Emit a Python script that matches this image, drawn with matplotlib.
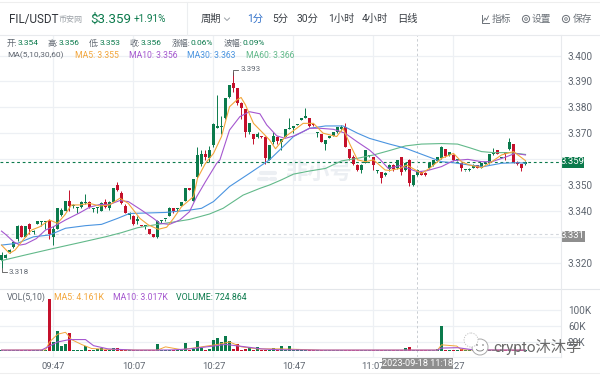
import matplotlib
matplotlib.use("Agg")
import matplotlib.pyplot as plt
from matplotlib.patches import Circle, Rectangle, Arc

plt.rcParams["font.family"] = ["Roboto", "Noto Sans CJK SC", "DejaVu Sans"]

UP = "#0b7a4c"
DOWN = "#c4102b"
C_MA5 = "#f3a63b"
C_MA10 = "#a557cf"
C_MA30 = "#4a94e0"
C_MA60 = "#62b98a"
GRID = "#edf0f4"
TXT = "#5f6670"

opens = [3.321, 3.322, 3.324, 3.326, 3.329, 3.334, 3.330, 3.335, 3.332, 3.335, 3.3358, 3.3358,
         3.336, 3.330, 3.333, 3.3385, 3.340, 3.344, 3.342, 3.341, 3.3416, 3.343, 3.3435, 3.3408,
         3.341, 3.340, 3.3435, 3.341, 3.3435, 3.350, 3.347, 3.342, 3.3385, 3.338, 3.336, 3.3345,
         3.334, 3.333, 3.331, 3.330, 3.3362, 3.3368, 3.338, 3.341, 3.3408, 3.342, 3.344, 3.349,
         3.344, 3.353, 3.358, 3.362, 3.3605, 3.3655, 3.3722, 3.3725, 3.3757, 3.3838, 3.3895, 3.3873,
         3.3815, 3.3793, 3.3706, 3.3697, 3.3687, 3.369, 3.3687, 3.3597, 3.3665, 3.3687, 3.3667, 3.3687,
         3.3717, 3.3722, 3.3732, 3.375, 3.376, 3.3757, 3.3733, 3.3702, 3.3697, 3.3658, 3.3683, 3.3689,
         3.3703, 3.3718, 3.3725, 3.3638, 3.3607, 3.3577, 3.3558, 3.3586, 3.3612, 3.3607, 3.3553, 3.3549,
         3.3538, 3.356, 3.3577, 3.3564, 3.3607, 3.3558, 3.3596, 3.350, 3.3539, 3.3551, 3.3548, 3.3564,
         3.3577, 3.3594, 3.3603, 3.3638, 3.3616, 3.3616, 3.3596, 3.3584, 3.3556, 3.3558, 3.3567, 3.3577,
         3.3567, 3.3582, 3.3584, 3.3618, 3.3635, 3.3605, 3.3626, 3.3638, 3.3658, 3.359, 3.358, 3.358]
closes = [3.323, 3.323, 3.325, 3.328, 3.334, 3.330, 3.334, 3.333, 3.3322, 3.336, 3.336, 3.336,
          3.331, 3.333, 3.341, 3.3405, 3.344, 3.342, 3.3423, 3.3413, 3.3435, 3.3435, 3.3415, 3.341,
          3.3412, 3.343, 3.3415, 3.3435, 3.349, 3.348, 3.343, 3.339, 3.339, 3.335, 3.337, 3.334,
          3.3342, 3.331, 3.330, 3.336, 3.3365, 3.337, 3.341, 3.340, 3.341, 3.3435, 3.349, 3.348,
          3.3525, 3.3616, 3.362, 3.3607, 3.3635, 3.3735, 3.3725, 3.3728, 3.3835, 3.3886, 3.3873, 3.3815,
          3.3796, 3.3706, 3.3738, 3.3678, 3.3697, 3.3687, 3.3603, 3.3654, 3.3689, 3.3671, 3.3676, 3.3715,
          3.372, 3.3725, 3.3735, 3.3757, 3.3765, 3.3728, 3.373, 3.3705, 3.3667, 3.3674, 3.369, 3.3703,
          3.3723, 3.3725, 3.3648, 3.3603, 3.358, 3.3558, 3.3577, 3.3635, 3.3616, 3.3577, 3.3556, 3.3526,
          3.3548, 3.3577, 3.356, 3.3596, 3.3549, 3.3586, 3.3506, 3.3539, 3.3558, 3.354, 3.3539, 3.3586,
          3.3596, 3.3607, 3.3648, 3.3612, 3.3626, 3.3596, 3.3598, 3.3564, 3.3558, 3.3562, 3.3577, 3.3567,
          3.3584, 3.3586, 3.3618, 3.3622, 3.362, 3.3608, 3.3618, 3.3667, 3.359, 3.358, 3.3564, 3.359]
highs = [3.324, 3.3235, 3.3252, 3.3285, 3.3345, 3.3345, 3.334, 3.3355, 3.3325, 3.336, 3.336, 3.336,
         3.337, 3.334, 3.341, 3.341, 3.344, 3.348, 3.3425, 3.3415, 3.344, 3.3466, 3.344, 3.341,
         3.3415, 3.3435, 3.3445, 3.344, 3.349, 3.351, 3.3475, 3.3425, 3.3395, 3.3385, 3.338, 3.3345,
         3.3345, 3.333, 3.331, 3.3365, 3.3365, 3.337, 3.3415, 3.3412, 3.341, 3.3435, 3.349, 3.349,
         3.3525, 3.3645, 3.3635, 3.3637, 3.365, 3.3738, 3.3847, 3.3765, 3.3835, 3.3886, 3.3935, 3.3875,
         3.382, 3.3795, 3.374, 3.3697, 3.3703, 3.369, 3.369, 3.3655, 3.3706, 3.369, 3.3678, 3.3716,
         3.3757, 3.3725, 3.3736, 3.3757, 3.3796, 3.3758, 3.3735, 3.3705, 3.3698, 3.3675, 3.369, 3.3703,
         3.3725, 3.373, 3.3738, 3.364, 3.3615, 3.358, 3.358, 3.3635, 3.3617, 3.361, 3.3557, 3.355,
         3.355, 3.358, 3.358, 3.3598, 3.361, 3.359, 3.360, 3.354, 3.356, 3.3553, 3.355, 3.3588,
         3.3598, 3.361, 3.365, 3.364, 3.3628, 3.362, 3.360, 3.3586, 3.3558, 3.3565, 3.358, 3.3578,
         3.3586, 3.3588, 3.362, 3.3642, 3.3637, 3.361, 3.3628, 3.368, 3.366, 3.3592, 3.3582, 3.3592]
lows = [3.318, 3.322, 3.3238, 3.3255, 3.3285, 3.330, 3.330, 3.331, 3.331, 3.335, 3.334, 3.333,
        3.329, 3.327, 3.333, 3.338, 3.340, 3.340, 3.341, 3.339, 3.3412, 3.3425, 3.341, 3.3395,
        3.339, 3.340, 3.341, 3.3405, 3.3435, 3.3475, 3.3425, 3.339, 3.337, 3.3345, 3.335, 3.334,
        3.333, 3.331, 3.330, 3.3295, 3.3355, 3.336, 3.338, 3.339, 3.340, 3.342, 3.344, 3.348,
        3.344, 3.3528, 3.3575, 3.3595, 3.359, 3.3648, 3.372, 3.3697, 3.3755, 3.3835, 3.386, 3.381,
        3.3755, 3.3687, 3.3695, 3.3658, 3.3682, 3.368, 3.358, 3.3595, 3.366, 3.366, 3.3635, 3.3686,
        3.3715, 3.370, 3.373, 3.375, 3.3758, 3.3725, 3.3728, 3.3685, 3.3665, 3.3635, 3.368, 3.3688,
        3.370, 3.371, 3.3645, 3.3595, 3.3578, 3.3555, 3.3545, 3.3585, 3.361, 3.3558, 3.3545, 3.3506,
        3.3535, 3.3555, 3.3555, 3.3562, 3.354, 3.3555, 3.3496, 3.3496, 3.3535, 3.3538, 3.3535, 3.356,
        3.3575, 3.359, 3.360, 3.361, 3.3612, 3.3594, 3.3592, 3.3555, 3.3553, 3.3555, 3.3565, 3.3565,
        3.3565, 3.358, 3.3583, 3.3616, 3.3618, 3.3603, 3.3598, 3.3635, 3.3585, 3.3578, 3.3555, 3.3578]
volumes_k = [1, 0.5, 0.5, 1, 0.5, 2, 2, 0.5, 0.5, 0.5, 1.5, 1,
             126, 21, 49, 10, 16, 42, 2, 2, 1, 12, 2, 2,
             3, 5, 2, 2, 5, 5, 3, 1, 1, 1, 1, 0.5,
             0.5, 0.5, 0.5, 17, 1, 1, 1.5, 1, 1, 2, 18, 2,
             3, 23, 5, 2, 4, 27, 30, 20, 37, 23, 4, 16,
             2, 4, 8, 2, 9, 2, 1.5, 1.5, 5, 2, 12, 2,
             12, 2, 3, 2, 2, 1, 1, 1, 1, 1, 1.5, 0.5,
             0.5, 0.5, 0.5, 0.5, 1.5, 0.5, 0.5, 2, 0.5, 0.5, 0.5, 0.5,
             1.5, 0.5, 0.5, 0.5, 1, 7, 8, 1.5, 1, 1, 0.5, 2,
             1, 3, 60, 2, 1, 1, 1, 3, 1, 1, 1.5, 2,
             1, 1, 2, 1, 1.5, 1, 1, 1, 2, 0.7, 1, 0.7]

# moving averages at the candle positions given
ma5_x = [0, 0.8, 2, 3.4, 5.4, 7.5, 9.6, 12, 14, 15.8, 17.5, 19.6, 22, 24.6, 27, 29.6, 31.7, 34.6, 36.7, 39.2,
         41.3, 43, 45, 48, 49, 51, 53, 55, 57, 58.8, 59.9, 61, 63, 65.4, 67, 68.5, 71, 73.8, 75.4, 78,
         80.4, 83.8, 85.4, 87, 89, 91, 93, 95.9, 97, 99.6, 101.3, 105, 107, 110, 113, 115, 117, 120, 122, 125,
         128, 131]
ma5 = [3.3268, 3.3255, 3.3236, 3.3249, 3.3288, 3.3326, 3.3339, 3.3365, 3.3352, 3.3384, 3.3423, 3.3423, 3.3429,
       3.3419, 3.3423, 3.3449, 3.3429, 3.3371, 3.3346, 3.3329, 3.3337, 3.3371, 3.3416, 3.3455, 3.3526, 3.3584,
       3.3622, 3.3687, 3.3802, 3.3828, 3.3838, 3.3809, 3.3738, 3.370, 3.3674, 3.3640, 3.3687, 3.3719, 3.3738,
       3.3738, 3.370, 3.3687, 3.3719, 3.3661, 3.3597, 3.359, 3.3597, 3.3558, 3.3556, 3.3564, 3.3577, 3.3545,
       3.3564, 3.3603, 3.3622, 3.359, 3.3577, 3.3567, 3.3584, 3.3616, 3.3629, 3.3594]
ma10_x = [0, 1.2, 3, 4.6, 6, 8.7, 11, 13, 16, 19.6, 22, 24.6, 27, 29.6, 31.7, 35, 38, 39.6, 42, 44.6,
          47, 48.8, 51, 53.8, 54.6, 57, 59.6, 62, 64.6, 66.3, 68.8, 70.9, 73, 75.4, 77, 79.6, 83, 85.9, 88.9, 92,
          94.6, 96.7, 99.6, 104, 106.3, 110, 113, 116.6, 120, 122.6, 125.9, 128.4, 131]
ma10 = [3.3322, 3.3307, 3.3281, 3.3268, 3.3272, 3.3293, 3.3326, 3.3339, 3.3365, 3.3393, 3.3414, 3.3425, 3.3425,
        3.344, 3.3436, 3.3403, 3.3371, 3.3352, 3.3348, 3.3365, 3.3397, 3.3455, 3.3513, 3.3584, 3.3597, 3.3712,
        3.3764, 3.3783, 3.3775, 3.3732, 3.369, 3.368, 3.3689, 3.3706, 3.3719, 3.3719, 3.3715, 3.370, 3.3667,
        3.3635, 3.3599, 3.3564, 3.3575, 3.3551, 3.3555, 3.3571, 3.3594, 3.3599, 3.359, 3.359, 3.3607, 3.3622, 3.3616]
ma30_x = [0, 4, 8, 12, 16, 21, 25, 29, 32, 41, 47, 50, 53, 57, 62, 67, 73, 77, 81, 85.4, 89, 92, 97, 101,
          105.5, 110, 113, 117, 120.5, 125, 129, 131]
ma30 = [3.3268, 3.3275, 3.330, 3.3307, 3.3333, 3.3343, 3.3348, 3.3371, 3.339, 3.3394, 3.3403, 3.341, 3.3436,
        3.3494, 3.3545, 3.3597, 3.3687, 3.3719, 3.3728, 3.3728, 3.370, 3.368, 3.3658, 3.3642, 3.3616, 3.359,
        3.3586, 3.3577, 3.3571, 3.3584, 3.3586, 3.3584]
ma60_x = [0, 6, 13, 20, 26, 30, 34, 39, 43, 47, 52, 55.4, 60.4, 64.6, 67, 70, 73, 77, 81, 85, 89, 93, 97, 101,
          105, 110, 114, 117, 120, 123, 127, 131]
ma60 = [3.3208, 3.323, 3.3255, 3.3279, 3.330, 3.3316, 3.3335, 3.3348, 3.3357, 3.3367, 3.3388, 3.341, 3.3461,
        3.3487, 3.350, 3.352, 3.3542, 3.3554, 3.3564, 3.3593, 3.3603, 3.3616, 3.3633, 3.3651, 3.3658, 3.366,
        3.3658, 3.3644, 3.3629, 3.3625, 3.3625, 3.3618]
vol_ma5_x = [0, 11, 12, 14, 16, 17.5, 20, 22.5, 26, 34, 39, 41, 45, 50, 54, 57, 60, 64, 70, 80, 105, 109, 110, 113.8, 115, 131]
vol_ma5 = [1, 1.5, 21, 40, 45, 27, 15, 5, 3, 1, 1, 9, 2, 9, 15, 21, 9, 4, 4, 1, 1, 1, 14, 11, 1.5, 1]
vol_ma10_x = [0, 10, 12, 14, 17, 21, 23, 26.6, 33, 39, 43, 47, 53, 56, 61, 65, 69, 80, 109, 110, 114, 118, 131]
vol_ma10 = [1, 1, 11, 21, 27, 27, 12, 4, 1, 1, 1.5, 4, 11, 15, 9, 4, 2, 1, 1, 6, 7, 1.5, 1]

price_ticks = [3.320, 3.330, 3.340, 3.350, 3.360, 3.370, 3.380, 3.390, 3.400]
price_labels = ["3.320", "", "3.340", "3.350", "", "3.370", "3.380", "3.390", "3.400"]
vol_ticks = [20, 60, 100]
vol_labels = ["20K", "60K", "100K"]
time_pos = [13, 33, 53, 73, 93, 113]
time_labels = ["09:47", "10:07", "10:27", "10:47", "11:07", "11:27"]
last_price = 3.359
mark_price = 3.331
cross_pos = 104

W, H = 600, 375
fig = plt.figure(figsize=(W / 100, H / 100), dpi=100, facecolor="white")


def px_axes(x0, y0, x1, y1, **kw):
    return fig.add_axes([x0 / W, 1 - y1 / H, (x1 - x0) / W, (y1 - y0) / H], **kw)


ax = px_axes(0, 35, 561, 289, zorder=1)
ax_v = px_axes(0, 289, 561, 357, zorder=1)
for a in (ax, ax_v):
    a.set_xlim(-0.375, 139.875)
    for s in a.spines.values():
        s.set_visible(False)
    a.tick_params(length=0, labelsize=7.2, labelcolor=TXT)
    a.tick_params(axis="y", pad=5)
    a.set_xticks(time_pos)
    a.set_xticklabels([])
    a.grid(True, color=GRID, linewidth=0.9)
    a.set_axisbelow(True)
    a.yaxis.tick_right()

ax.set_ylim(3.350 - 104 / 2590, 3.350 + 150 / 2590)
ax.set_yticks(price_ticks)
ax.set_yticklabels(price_labels)
ax_v.set_ylim(-6.5 * 2.47, 61.5 * 2.47)
ax_v.set_yticks(vol_ticks)
ax_v.set_yticklabels(vol_labels)
ax_v.set_xticklabels(time_labels)
ax_v.tick_params(axis="x", pad=3.5, labelsize=6.8)
ax_v.spines["bottom"].set_visible(True)
ax_v.spines["bottom"].set_color(GRID)

# watermark sits under the candles
ax.text(71, 3.3545, "非小号", fontsize=16, color="#eceff3", va="center", ha="left", fontweight="bold", zorder=1)
ax.plot([65, 68.5], [3.3545, 3.3545], color="#eceff3", linewidth=3, solid_capstyle="round", zorder=1)
ax.plot([64.5, 66.5], [3.3525, 3.3525], color="#eceff3", linewidth=3, solid_capstyle="round", zorder=1)
ax.plot([67.5, 68.5], [3.3525, 3.3525], color="#eceff3", linewidth=3, solid_capstyle="round", zorder=1)

# candles
xs = list(range(len(opens)))
colors = [UP if c >= o else DOWN for o, c in zip(opens, closes)]
ax.vlines(xs, lows, highs, colors=colors, linewidth=0.7, zorder=3)
body_low = [min(o, c) for o, c in zip(opens, closes)]
body_h = [max(abs(c - o), 0.0004) for o, c in zip(opens, closes)]
ax.bar(xs, body_h, bottom=body_low, width=0.72, color=colors, linewidth=0, zorder=3)

ax.plot(ma60_x, ma60, color=C_MA60, linewidth=0.8, zorder=4)
ax.plot(ma30_x, ma30, color=C_MA30, linewidth=0.8, zorder=4)
ax.plot(ma10_x, ma10, color=C_MA10, linewidth=0.8, zorder=4)
ax.plot(ma5_x, ma5, color=C_MA5, linewidth=0.8, zorder=5)

ax.axhline(last_price, color=UP, linewidth=0.8, linestyle=(0, (2.5, 2.5)), zorder=2)
ax.axhline(mark_price, color="#d3d7dc", linewidth=0.8, linestyle=(0, (2.5, 2.5)), zorder=2)
for a in (ax, ax_v):
    a.axvline(cross_pos, color="#c9cdd2", linewidth=0.7, linestyle=(0, (2.5, 2.5)), zorder=2)

# high / low markers
ax.plot([58, 58, 59.2], [3.3925, 3.3945, 3.3945], color="#555555", linewidth=0.6, zorder=6)
ax.text(59.7, 3.3948, "3.393", fontsize=5.8, color=TXT, va="center", ha="left")
ax.plot([0.2, 0.2, 1.4], [3.3178, 3.3165, 3.3165], color="#555555", linewidth=0.6, zorder=6)
ax.text(1.7, 3.3164, "3.318", fontsize=5.8, color=TXT, va="center", ha="left")

# volume
ax_v.bar(xs, volumes_k, width=0.72, color=colors, linewidth=0, zorder=3)
ax_v.plot(vol_ma5_x, vol_ma5, color=C_MA5, linewidth=0.7, zorder=4)
ax_v.plot(vol_ma10_x, vol_ma10, color=C_MA10, linewidth=0.8, zorder=5)

# page chrome, in pixel units
top = px_axes(0, 0, W, H, zorder=5)
top.set_xlim(0, W)
top.set_ylim(H, 0)
top.axis("off")
top.patch.set_alpha(0)

top.plot([0, W], [35, 35], color="#e8eaed", linewidth=0.8)
top.plot([0, W], [1.5, 1.5], color="#eeeeee", linewidth=0.8)
top.plot([0, W], [289, 289], color="#e3e6ea", linewidth=0.8)
top.plot([561, 561], [35, 357], color="#e8eaed", linewidth=0.8)
top.plot([187, 187], [2, 35], color="#eceef0", linewidth=0.8)
top.plot([0, W], [373, 373], color="#eeeeee", linewidth=0.8)

top.text(9, 19, "FIL/USDT", fontsize=8.4, color="#30343a", va="center")
top.text(58, 19, "币安网", fontsize=5.8, color="#9aa0a6", va="center")
top.text(90, 19, "$3.359", fontsize=9.6, color=UP, va="center")
top.text(134, 19, "+1.91%", fontsize=7.2, color=UP, va="center")
top.text(201, 19, "周期", fontsize=7.4, color="#3a3f45", va="center")
top.plot([224.5, 227, 229.5], [18, 20.5, 18], color="#9aa0a6", linewidth=0.7)
top.text(247, 19, "1分", fontsize=7.4, color="#2f6fc9", va="center")
top.text(272, 19, "5分", fontsize=7.4, color="#3a3f45", va="center")
top.text(297, 19, "30分", fontsize=7.4, color="#3a3f45", va="center")
top.text(328, 19, "1小时", fontsize=7.4, color="#3a3f45", va="center")
top.text(362, 19, "4小时", fontsize=7.4, color="#3a3f45", va="center")
top.text(397, 19, "日线", fontsize=7.4, color="#3a3f45", va="center")
top.text(492, 19, "指标", fontsize=7, color="#6b7178", va="center")
top.text(532, 19, "设置", fontsize=7, color="#6b7178", va="center")
top.text(573, 19, "保存", fontsize=7, color="#6b7178", va="center")
top.plot([482, 482, 489], [15, 23, 23], color="#6b7178", linewidth=0.7)
top.plot([483.5, 485, 486.5, 488.5], [21, 18, 20, 16], color="#6b7178", linewidth=0.6)
top.add_patch(Circle((526, 19), 3.6, fill=False, ec="#6b7178", lw=0.7))
top.add_patch(Circle((526, 19), 1.3, fill=False, ec="#6b7178", lw=0.6))
top.add_patch(Circle((566, 19), 3.6, fill=False, ec="#6b7178", lw=0.7))
top.add_patch(Circle((566, 19), 1.3, fill=False, ec="#6b7178", lw=0.6))

row1 = [(7, "开:", "3.354"), (48, "高:", "3.356"), (89, "低:", "3.353"),
        (130, "收:", "3.356"), (172, "涨幅:", "0.06%"), (224, "波幅:", "0.09%")]
label_w = {"开:": 10.5, "高:": 10.5, "低:": 10.5, "收:": 10.5, "涨幅:": 18.5, "波幅:": 18.5}
for x, lab, val in row1:
    top.text(x, 43, lab, fontsize=6, color=TXT, va="center")
    top.text(x + label_w[lab], 43, val, fontsize=6, color=UP, va="center")
top.text(7, 55, "MA(5,10,30,60)", fontsize=6, color=TXT, va="center")
top.text(75, 55, "MA5: 3.355", fontsize=6.2, color=C_MA5, va="center")
top.text(129, 55, "MA10: 3.356", fontsize=6.2, color=C_MA10, va="center")
top.text(187, 55, "MA30: 3.363", fontsize=6.2, color=C_MA30, va="center")
top.text(246, 55, "MA60: 3.366", fontsize=6.2, color=C_MA60, va="center")

top.text(7, 297, "VOL(5,10)", fontsize=6.3, color=TXT, va="center")
top.text(54, 297, "MA5: 4.161K", fontsize=6.3, color=C_MA5, va="center")
top.text(113, 297, "MA10: 3.017K", fontsize=6.3, color=C_MA10, va="center")
top.text(176, 297, "VOLUME: 724.864", fontsize=6.3, color=UP, va="center")

# price tags
top.add_patch(Rectangle((561, 156.5), 23, 11, fc=UP, ec="none"))
top.text(572.5, 162, "3.359", fontsize=6.8, color="white", va="center", ha="center")
top.add_patch(Rectangle((561, 231), 24, 10.5, fc="#8e8e8e", ec="none"))
top.text(573, 236, "3.331", fontsize=6.8, color="white", va="center", ha="center")
top.add_patch(Rectangle((382, 357.5), 71, 11, fc="#8e8e8e", ec="none"))
top.text(417.5, 363, "2023-09-18 11:18", fontsize=6.6, color="white", va="center", ha="center")

# account watermark
top.add_patch(Circle((480, 347), 8, fc="white", ec="#a8a8a8", lw=0.7))
top.add_patch(Circle((471, 340), 7, fc="white", ec="#bdbdbd", lw=0.6, ls=(0, (1.5, 1.5))))
top.add_patch(Circle((477, 345), 0.8, fc="#777777", ec="none"))
top.add_patch(Circle((483, 345), 0.8, fc="#777777", ec="none"))
top.add_patch(Arc((480, 349), 7, 4, theta1=0, theta2=180, ec="#777777", lw=0.6))
top.text(493, 347, "crypto沐沐学", fontsize=11, color="#6a6a6a", va="center", ha="left")

fig.savefig("out.png", dpi=100, facecolor="white")
